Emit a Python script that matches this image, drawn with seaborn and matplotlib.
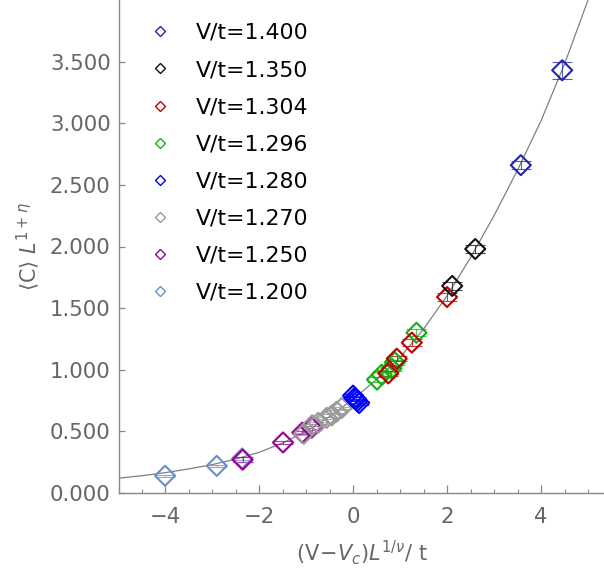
import matplotlib
matplotlib.use("Agg")
import matplotlib.pyplot as plt
from matplotlib.lines import Line2D
from matplotlib.ticker import MultipleLocator
import seaborn as sns
import pandas as pd

sns.set_theme(style="white")
plt.rcParams['font.family'] = ['DejaVu Sans']

# ---- data ----
labels = ["V/t=1.400", "V/t=1.350", "V/t=1.304", "V/t=1.296",
          "V/t=1.280", "V/t=1.270", "V/t=1.250", "V/t=1.200"]
colors = ["#2424b0", "#111111", "#c00000", "#12b012",
          "#0000ff", "#9a9a9a", "#990099", "#6a8fc8"]

x_1400 = [3.57, 4.45]
y_1400 = [2.66, 3.43]
e_1400 = [0.03, 0.07]

x_1350 = [2.11, 2.60]
y_1350 = [1.68, 1.98]
e_1350 = [0.03, 0.03]

x_1304 = [0.75, 0.93, 1.25, 2.00]
y_1304 = [0.97, 1.09, 1.22, 1.59]
e_1304 = [0.02, 0.02, 0.03, 0.03]

x_1296 = [0.51, 0.61, 0.82, 0.89, 1.35]
y_1296 = [0.92, 0.96, 1.01, 1.06, 1.30]
e_1296 = [0.02, 0.02, 0.02, 0.02, 0.03]

x_1280 = [0.00, 0.03, 0.06, 0.09, 0.13]
y_1280 = [0.79, 0.77, 0.76, 0.745, 0.73]
e_1280 = [0.015, 0.015, 0.015, 0.015, 0.015]

x_1270 = [-1.05, -0.87, -0.74, -0.56, -0.45, -0.35, -0.24]
y_1270 = [0.48, 0.55, 0.57, 0.61, 0.63, 0.66, 0.69]
e_1270 = [0.01, 0.01, 0.01, 0.01, 0.01, 0.01, 0.01]

x_1250 = [-2.35, -1.49, -1.08, -0.88]
y_1250 = [0.27, 0.41, 0.49, 0.53]
e_1250 = [0.02, 0.015, 0.015, 0.015]

x_1200 = [-4.00, -2.90, -2.36]
y_1200 = [0.14, 0.22, 0.28]
e_1200 = [0.01, 0.01, 0.01]

# fitted scaling curve
curve_x = [-5.0, -4.5, -4.0, -3.5, -3.0, -2.5, -2.0, -1.5, -1.0, -0.5, 0.0,
           0.5, 1.0, 1.5, 2.0, 2.5, 3.0, 3.5, 4.0, 4.5, 5.0, 5.4]
curve_y = [0.12, 0.14, 0.165, 0.195, 0.23, 0.275, 0.33, 0.405, 0.50, 0.62, 0.76,
           0.92, 1.10, 1.33, 1.60, 1.91, 2.25, 2.62, 3.02, 3.48, 4.00, 4.45]

series = [(x_1400, y_1400, e_1400), (x_1350, y_1350, e_1350),
          (x_1304, y_1304, e_1304), (x_1296, y_1296, e_1296),
          (x_1280, y_1280, e_1280), (x_1270, y_1270, e_1270),
          (x_1250, y_1250, e_1250), (x_1200, y_1200, e_1200)]

W, H = 604, 573
fig = plt.figure(figsize=(W / 100, H / 100), dpi=100)
ax = fig.add_axes([119 / W, 80 / H, (W - 119) / W, 493 / H])

curve = pd.DataFrame({"x": curve_x, "y": curve_y})
sns.lineplot(data=curve, x="x", y="y", ax=ax, color="#808080", linewidth=0.9,
             sort=False, zorder=1)

for (xs, ys, es), col, lab in reversed(list(zip(series, colors, labels))):
    df = pd.DataFrame({"x": xs, "y": ys, "e": es})
    ax.errorbar(df["x"], df["y"], yerr=df["e"], fmt="none", ecolor=col,
                elinewidth=0.8, capsize=7, capthick=0.8, alpha=0.75, zorder=2)
    sns.scatterplot(data=df, x="x", y="y", ax=ax, marker="D", s=104,
                    color=col, facecolor="none", edgecolor=col,
                    linewidth=1.5, zorder=3)

ax.set_xlim(-4.98, 5.34)
ax.set_ylim(0, 4.0)
ax.set_yticks([0, 0.5, 1.0, 1.5, 2.0, 2.5, 3.0, 3.5])
ax.set_yticklabels(["%.3f" % v for v in [0, 0.5, 1.0, 1.5, 2.0, 2.5, 3.0, 3.5]])
ax.set_xticks([-4, -2, 0, 2, 4])
ax.set_xticklabels(["\u22124", "\u22122", "0", "2", "4"])
ax.xaxis.set_minor_locator(MultipleLocator(0.5))

for s in ["top", "right"]:
    ax.spines[s].set_visible(False)
for s in ["left", "bottom"]:
    ax.spines[s].set_color("#888888")
    ax.spines[s].set_linewidth(1.0)

ax.tick_params(axis="x", which="major", direction="in", length=5.5, width=0.9,
               color="#888888", labelsize=15.3, labelcolor="#666666", pad=10,
               bottom=True)
ax.tick_params(axis="x", which="minor", direction="in", length=3, width=0.8,
               color="#888888", bottom=True)
ax.tick_params(axis="y", which="major", direction="in", length=4, width=0.9,
               color="#888888", labelsize=15.3, labelcolor="#666666", pad=6,
               left=True)

ax.set_xlabel(r"$(\mathrm{V}\!-\!V_c)L^{1/\nu}/\ \mathrm{t}$", fontsize=15,
              color="#666666", labelpad=8)
ax.set_ylabel(r"$\langle\mathrm{C}\rangle\ L^{1+\eta}$", fontsize=15,
              color="#666666", labelpad=6)

handles = [Line2D([], [], linestyle="none", marker="D", markersize=5.6,
                  markerfacecolor="none", markeredgecolor=c, markeredgewidth=1.0)
           for c in colors]
leg = ax.legend(handles, labels, loc="upper left",
                bbox_to_anchor=(149 / W, 1 - 23 / H), bbox_transform=fig.transFigure,
                frameon=False, fontsize=15.8, handlelength=1.0, handletextpad=1.15,
                borderpad=0, borderaxespad=0, labelspacing=0.78)
for t in leg.get_texts():
    t.set_color("#000000")

fig.savefig("out.png", dpi=100)
